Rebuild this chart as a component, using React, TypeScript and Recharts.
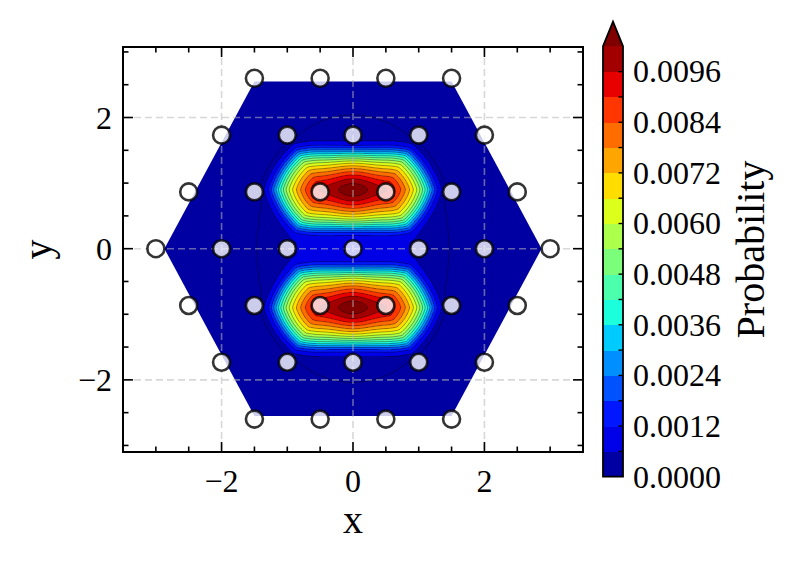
import React, { useMemo } from 'react';
import * as Recharts from 'recharts';

const RC: any = Recharts;
const { ScatterChart, Scatter, XAxis, YAxis } = RC;

// ---------------- data ----------------
const rowY = [2.598, 1.732, 0.866, 0, -0.866, -1.732, -2.598];
const rowSitesX: number[][] = [
  [-1.5, -0.5, 0.5, 1.5],
  [-2, -1, 0, 1, 2],
  [-2.5, -1.5, -0.5, 0.5, 1.5, 2.5],
  [-3, -2, -1, 0, 1, 2, 3],
  [-2.5, -1.5, -0.5, 0.5, 1.5, 2.5],
  [-2, -1, 0, 1, 2],
  [-1.5, -0.5, 0.5, 1.5],
];
const sites = rowY.flatMap((y, i) => rowSitesX[i].map((x) => ({ x, y })));

// probability blobs
const blobX = [0, 0];
const blobY = [0.9, -0.9];
const ridgePeak = [0.0099, 0.0099]; // ridge value at the blob centre
const ridgeEnd = [0.0089, 0.0089]; // ridge value at the ends of the core
const ridgeWidth = 0.32;
const coreHalf = 0.5;
const stretchX = 0.86;
const innerScale = 0.66;
const innerPow = 1.7;
const edgeScale = 0.65;
const edgePow = 7;
const waist = 0.03;
const waistWidth = 0.5;
const hexMix = 0.5;
const tailAmp = 0.00055;
const tailScaleX = 1.6;
const tailScaleY = 1.6;

// domain boundary of the filled region
const hullX = [-2.87, -1.5, 1.5, 2.87, 1.5, -1.5];
const hullY = [0, 2.55, 2.55, 0, -2.55, -2.55];

// contour levels
const levels = [0, 0.0006, 0.0012, 0.0018, 0.0024, 0.003, 0.0036, 0.0042, 0.0048, 0.0054, 0.006, 0.0066, 0.0072, 0.0078, 0.0084, 0.009, 0.0096, 0.0102];
const lineLevels = [0.00035, 0.0006, 0.0012, 0.0018, 0.0024, 0.003, 0.0036, 0.0042, 0.0048, 0.0054, 0.006, 0.0066, 0.0072, 0.0078, 0.0084, 0.009, 0.0096, 0.0102];
const cbLabels = [0, 0.0012, 0.0024, 0.0036, 0.0048, 0.006, 0.0072, 0.0084, 0.0096];

const xTicks = [-2, 0, 2];
const yTicks = [-2, 0, 2];
const xMinor = [-3, -2.5, -1.5, -1, -0.5, 0.5, 1, 1.5, 2.5, 3];
const yMinor = [-3, -2.5, -1.5, -1, -0.5, 0.5, 1, 1.5, 2.5, 3];

const X_DOMAIN = [-3.5, 3.5];
const Y_DOMAIN = [-3.1, 3.075];

// ---------------- style ----------------
const W = 797;
const H = 564;
const MARGIN = { top: 47, right: 214, bottom: 0, left: 0 };
const XAXIS_H = 112;
const YAXIS_W = 123;
const FONT = '"Liberation Serif", "Times New Roman", serif';
const TICK_FS = 32;
const LABEL_FS = 40;

const R_PTS = [[0, 0], [0.35, 0], [0.66, 1], [0.89, 1], [1, 0.5]];
const G_PTS = [[0, 0], [0.125, 0], [0.375, 1], [0.64, 1], [0.91, 0], [1, 0]];
const B_PTS = [[0, 0.5], [0.11, 1], [0.34, 1], [0.65, 0], [1, 0]];
function seg(pts: number[][], t: number) {
  for (let i = 1; i < pts.length; i++) {
    if (t <= pts[i][0]) {
      const [a, va] = pts[i - 1];
      const [b, vb] = pts[i];
      return va + ((t - a) / (b - a)) * (vb - va);
    }
  }
  return pts[pts.length - 1][1];
}
function jet(t: number) {
  const c = (v: number) => Math.round(Math.max(0, Math.min(1, v)) * 255);
  return `rgb(${c(seg(R_PTS, t))},${c(seg(G_PTS, t))},${c(seg(B_PTS, t))})`;
}
const nBands = levels.length - 1;
const bandColors = Array.from({ length: nBands }, (_, i) => jet((i + 0.5) / nBands));
const overColor = jet(1);

function sq(v: number) {
  return v * v;
}
function dist(dxs: number, dy: number) {
  const hexN = Math.max(dy, dxs + 0.5 * dy);
  const euc = Math.sqrt(dxs * dxs + dy * dy);
  return hexMix * hexN + (1 - hexMix) * euc;
}
function field(x: number, y: number) {
  let s = 0;
  for (let k = 0; k < blobX.length; k++) {
    const ax = Math.abs(x - blobX[k]);
    const dxs = stretchX * Math.max(0, ax - coreHalf);
    const dyRaw = Math.abs(y - blobY[k]);
    const dyW = dyRaw / (1 - waist * Math.exp(-sq(ax / waistWidth)));
    const d = dist(dxs, dyW);
    const amp = ridgeEnd[k] + (ridgePeak[k] - ridgeEnd[k]) * Math.exp(-sq(ax / ridgeWidth));
    s += amp * Math.exp(-Math.pow(d / innerScale, innerPow) - Math.pow(d / edgeScale, edgePow));
    s += tailAmp * Math.exp(-sq(ax / tailScaleX) - sq(dyRaw / tailScaleY));
  }
  return s;
}
function bandOf(v: number) {
  if (v >= levels[levels.length - 1]) return nBands; // over
  let b = Math.floor(v / (levels[1] - levels[0]));
  if (b < 0) b = 0;
  if (b > nBands - 1) b = nBands - 1;
  return b;
}
function hullSpan(y: number): [number, number] | null {
  const xs: number[] = [];
  const n = hullX.length;
  for (let i = 0; i < n; i++) {
    const x1 = hullX[i], y1 = hullY[i];
    const x2 = hullX[(i + 1) % n], y2 = hullY[(i + 1) % n];
    if ((y >= Math.min(y1, y2)) && (y <= Math.max(y1, y2)) && y1 !== y2) {
      xs.push(x1 + ((y - y1) / (y2 - y1)) * (x2 - x1));
    }
  }
  if (xs.length < 2) return null;
  return [Math.min(...xs), Math.max(...xs)];
}

// ---------------- mapping through the chart's scales ----------------
function useMapping() {
  const xs = RC.useXAxisScale ? RC.useXAxisScale() : undefined;
  const ys = RC.useYAxisScale ? RC.useYAxisScale() : undefined;
  const area = RC.usePlotArea ? RC.usePlotArea() : undefined;
  let x0 = YAXIS_W, x1 = W - MARGIN.right, y0 = H - XAXIS_H, y1 = MARGIN.top;
  if (area && isFinite(area.x) && area.width > 0) {
    x0 = area.x; x1 = area.x + area.width; y0 = area.y + area.height; y1 = area.y;
  }
  if (typeof xs === 'function') {
    const a = xs(X_DOMAIN[0]), b = xs(X_DOMAIN[1]);
    if (isFinite(a) && isFinite(b)) { x0 = a; x1 = b; }
  }
  if (typeof ys === 'function') {
    const a = ys(Y_DOMAIN[0]), b = ys(Y_DOMAIN[1]);
    if (isFinite(a) && isFinite(b)) { y0 = a; y1 = b; }
  }
  return useMemo(() => {
    const mx = (v: number) => x0 + ((v - X_DOMAIN[0]) / (X_DOMAIN[1] - X_DOMAIN[0])) * (x1 - x0);
    const my = (v: number) => y0 + ((v - Y_DOMAIN[0]) / (Y_DOMAIN[1] - Y_DOMAIN[0])) * (y1 - y0);
    const invx = (p: number) => X_DOMAIN[0] + ((p - x0) / (x1 - x0)) * (X_DOMAIN[1] - X_DOMAIN[0]);
    const invy = (p: number) => Y_DOMAIN[0] + ((p - y0) / (y1 - y0)) * (Y_DOMAIN[1] - Y_DOMAIN[0]);
    return { mx, my, invx, invy, x0, x1, y0, y1 };
  }, [x0, x1, y0, y1]);
}

function FieldLayer() {
  const m = useMapping();
  const { fills, lines, hullPath } = useMemo(() => {
    const { mx, my, invx, invy } = m;
    const paths: string[] = Array.from({ length: nBands + 1 }, () => '');
    const hullPath = hullX.map((x, i) => `${i ? 'L' : 'M'}${mx(x).toFixed(2)} ${my(hullY[i]).toFixed(2)}`).join('') + 'Z';
    const yTop = Math.max(...hullY), yBot = Math.min(...hullY);
    const pyStart = Math.floor(my(yTop)), pyEnd = Math.ceil(my(yBot));
    for (let py = pyStart; py < pyEnd; py++) {
      const yc = invy(py + 0.5);
      const span = hullSpan(yc);
      if (!span) continue;
      const pL = Math.round(mx(span[0])), pR = Math.round(mx(span[1]));
      let cur = -1, start = pL;
      const flush = (end: number) => {
        if (cur > 0 && end > start) paths[cur] += `M${start} ${py}h${end - start}v1h${start - end}z`;
      };
      for (let px = pL; px < pR; px++) {
        const b = bandOf(field(invx(px + 0.5), yc));
        if (b !== cur) { flush(px); cur = b; start = px; }
      }
      flush(pR);
    }
    // contour lines by marching squares
    const step = 2;
    const gx0 = Math.floor(mx(Math.min(...hullX))), gx1 = Math.ceil(mx(Math.max(...hullX)));
    const gy0 = pyStart, gy1 = pyEnd;
    const nx = Math.ceil((gx1 - gx0) / step) + 1, ny = Math.ceil((gy1 - gy0) / step) + 1;
    const vals = new Float64Array(nx * ny);
    for (let j = 0; j < ny; j++) {
      const yv = invy(gy0 + j * step);
      for (let i = 0; i < nx; i++) vals[j * nx + i] = field(invx(gx0 + i * step), yv);
    }
    const inside: boolean[] = [];
    for (let j = 0; j < ny - 1; j++) {
      const yc = invy(gy0 + (j + 0.5) * step);
      const span = hullSpan(yc);
      for (let i = 0; i < nx - 1; i++) {
        const xc = invx(gx0 + (i + 0.5) * step);
        inside[j * nx + i] = !!span && xc > span[0] + 0.04 && xc < span[1] - 0.04;
      }
    }
    const lines: string[] = lineLevels.map((L) => {
      let d = '';
      for (let j = 0; j < ny - 1; j++) {
        for (let i = 0; i < nx - 1; i++) {
          if (!inside[j * nx + i]) continue;
          const a = vals[j * nx + i], b = vals[j * nx + i + 1];
          const c = vals[(j + 1) * nx + i + 1], dd = vals[(j + 1) * nx + i];
          const idx = (a > L ? 8 : 0) | (b > L ? 4 : 0) | (c > L ? 2 : 0) | (dd > L ? 1 : 0);
          if (idx === 0 || idx === 15) continue;
          const X = gx0 + i * step, Y = gy0 + j * step;
          const pts: number[][] = [];
          if ((a > L) !== (b > L)) pts.push([X + ((L - a) / (b - a)) * step, Y]);
          if ((b > L) !== (c > L)) pts.push([X + step, Y + ((L - b) / (c - b)) * step]);
          if ((dd > L) !== (c > L)) pts.push([X + ((L - dd) / (c - dd)) * step, Y + step]);
          if ((a > L) !== (dd > L)) pts.push([X, Y + ((L - a) / (dd - a)) * step]);
          const f = (p: number[]) => `${p[0].toFixed(1)} ${p[1].toFixed(1)}`;
          if (pts.length === 2) d += `M${f(pts[0])}L${f(pts[1])}`;
          else if (pts.length === 4) {
            d += `M${f(pts[0])}L${f(pts[3])}M${f(pts[1])}L${f(pts[2])}`;
          }
        }
      }
      return d;
    });
    return { fills: paths, lines, hullPath };
  }, [m]);
  const { mx, my, x0, x1, y0, y1 } = m;
  return (
    <g className="field-layer">
      <path d={hullPath} fill={bandColors[0]} stroke="none" />
      {fills.map((d, i) => (i > 0 && d ? <path key={'f' + i} d={d} fill={i === nBands ? overColor : bandColors[i]} shapeRendering="crispEdges" /> : null))}
      {lines.map((d, i) => (d ? <path key={'l' + i} d={d} fill="none" stroke="#000" strokeOpacity={0.45} strokeWidth={0.8} /> : null))}
      {xTicks.map((t) => (
        <line key={'gx' + t} x1={mx(t)} x2={mx(t)} y1={Math.min(y0, y1)} y2={Math.max(y0, y1)} stroke="#b8b8b8" strokeOpacity={0.55} strokeWidth={1.6} strokeDasharray="7 4" />
      ))}
      {yTicks.map((t) => (
        <line key={'gy' + t} y1={my(t)} y2={my(t)} x1={x0} x2={x1} stroke="#b8b8b8" strokeOpacity={0.55} strokeWidth={1.6} strokeDasharray="7 4" />
      ))}
    </g>
  );
}

function FrameLayer() {
  const { mx, my, x0, x1, y0, y1 } = useMapping();
  const top = Math.min(y0, y1), bot = Math.max(y0, y1);
  const MAJ = 10, MIN = 5.5;
  const els: React.ReactNode[] = [];
  const tickX = (v: number, len: number, key: string) => {
    const x = mx(v);
    els.push(<line key={key + 'b'} x1={x} x2={x} y1={bot} y2={bot - len} stroke="#000" strokeWidth={1.6} />);
    els.push(<line key={key + 't'} x1={x} x2={x} y1={top} y2={top + len} stroke="#000" strokeWidth={1.6} />);
  };
  const tickY = (v: number, len: number, key: string) => {
    const y = my(v);
    els.push(<line key={key + 'l'} x1={x0} x2={x0 + len} y1={y} y2={y} stroke="#000" strokeWidth={1.6} />);
    els.push(<line key={key + 'r'} x1={x1} x2={x1 - len} y1={y} y2={y} stroke="#000" strokeWidth={1.6} />);
  };
  xTicks.forEach((v) => tickX(v, MAJ, 'X' + v));
  xMinor.forEach((v) => tickX(v, MIN, 'x' + v));
  yTicks.forEach((v) => tickY(v, MAJ, 'Y' + v));
  yMinor.forEach((v) => tickY(v, MIN, 'y' + v));
  return (
    <g className="frame-layer">
      {els}
      <rect x={x0} y={top} width={x1 - x0} height={bot - top} fill="none" stroke="#000" strokeWidth={2} />
      <text x={(x0 + x1) / 2} y={533} textAnchor="middle" fontFamily={FONT} fontSize={LABEL_FS} fill="#000">x</text>
      <text x={51} y={(top + bot) / 2} textAnchor="middle" fontFamily={FONT} fontSize={LABEL_FS} fill="#000" transform={`rotate(-90 51 ${(top + bot) / 2})`}>y</text>
    </g>
  );
}

function Colorbar() {
  const cbL = 603, cbR = 623, cbBot = 476.7, cbTop = 46.3, tipY = 21.7;
  const vmax = levels[levels.length - 1];
  const vy = (v: number) => cbBot - (v / vmax) * (cbBot - cbTop);
  return (
    <g className="colorbar">
      {bandColors.map((c, i) => (
        <rect key={i} x={cbL} y={vy(levels[i + 1])} width={cbR - cbL} height={vy(levels[i]) - vy(levels[i + 1]) + 0.5} fill={c} shapeRendering="crispEdges" />
      ))}
      <path d={`M${cbL} ${cbTop}L${(cbL + cbR) / 2} ${tipY}L${cbR} ${cbTop}Z`} fill={overColor} />
      {levels.slice(1, -1).map((v) => (
        <line key={'t' + v} x1={cbR} x2={cbR - 4.5} y1={vy(v)} y2={vy(v)} stroke="#000" strokeWidth={1.4} />
      ))}
      <path d={`M${cbL} ${cbBot}L${cbL} ${cbTop}L${(cbL + cbR) / 2} ${tipY}L${cbR} ${cbTop}L${cbR} ${cbBot}Z`} fill="none" stroke="#000" strokeWidth={1.8} />
      {cbLabels.map((v) => (
        <text key={'l' + v} x={633} y={vy(v) + 0.34 * TICK_FS} fontFamily={FONT} fontSize={TICK_FS} fill="#000">{v.toFixed(4)}</text>
      ))}
      <text x={764} y={249.5} textAnchor="middle" fontFamily={FONT} fontSize={LABEL_FS} fill="#000" transform="rotate(-90 764 249.5)">Probability</text>
    </g>
  );
}

const Marker = (p: any) => (
  <circle cx={p.cx} cy={p.cy} r={8.5} fill="#ffffff" fillOpacity={0.8} stroke="#000" strokeOpacity={0.8} strokeWidth={2.6} />
);

const fmt = (v: number) => (v < 0 ? '\u2212' + Math.abs(v) : String(v));

export default function App() {
  return (
    <div style={{ position: 'absolute', left: 0, top: 0, width: W, height: H, background: '#fff' }}>
      <ScatterChart width={W} height={H} margin={MARGIN}>
        <FieldLayer />
        <XAxis
          type="number"
          dataKey="x"
          domain={X_DOMAIN}
          ticks={xTicks}
          interval={0}
          allowDataOverflow
          height={XAXIS_H}
          tickLine={false}
          axisLine={false}
          tickSize={0}
          tickMargin={17}
          tickFormatter={fmt}
          tick={{ fontFamily: FONT, fontSize: TICK_FS, fill: '#000' }}
        />
        <YAxis
          type="number"
          dataKey="y"
          domain={Y_DOMAIN}
          ticks={yTicks}
          interval={0}
          allowDataOverflow
          width={YAXIS_W}
          tickLine={false}
          axisLine={false}
          tickSize={0}
          tickMargin={11}
          tickFormatter={fmt}
          tick={{ fontFamily: FONT, fontSize: TICK_FS, fill: '#000' }}
        />
        <Scatter data={sites} shape={Marker} isAnimationActive={false} />
        <FrameLayer />
        <Colorbar />
      </ScatterChart>
    </div>
  );
}
